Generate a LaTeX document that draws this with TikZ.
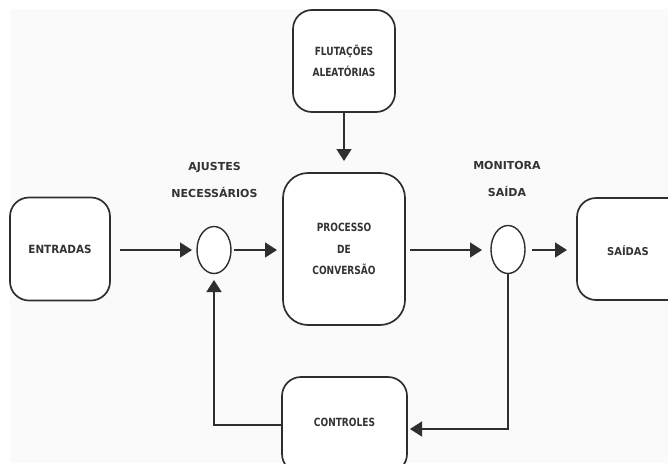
\documentclass[tikz,border=0pt]{standalone}
\usepackage{fontspec}
\setmainfont{DejaVu Sans}
\newfontfamily\narrowf{DejaVu Sans}[FakeStretch=0.8]
\newfontfamily\entf{DejaVu Sans}[FakeStretch=0.92]
\usetikzlibrary{arrows.meta}
\definecolor{bgc}{HTML}{FAFAFA}
\definecolor{linec}{HTML}{2E2E2E}
\definecolor{textc}{HTML}{333333}
\tikzset{
  block/.style={draw=linec, line width=1.7pt, rounded corners=#1, fill=white, inner sep=0pt, outer sep=0pt, align=center, text=textc, font=\narrowf\bfseries\fontsize{11.3}{21.6}\selectfont},
  block/.default=19pt,
  btext/.style={text=textc, inner sep=0pt, font=\narrowf\bfseries\fontsize{11.3}{21.6}\selectfont},
  lbl/.style={align=center, text=textc, font=\bfseries\fontsize{11}{27}\selectfont, inner sep=0pt},
  conn/.style={draw=linec, line width=1.5pt, -{Triangle[length=12pt,width=15pt]}},
  junc/.style={draw=linec, line width=1.4pt, fill=white}
}
\begin{document}
\begin{tikzpicture}[x=1pt,y=-1pt]
\useasboundingbox (0,0) rectangle (668,463);
\clip (0,0) rectangle (668,463);
\fill[bgc] (10,9) rectangle (668,463);
% boxes
\node[block, minimum width=100pt, minimum height=103pt, font=\entf\bfseries\fontsize{11.3}{21.6}\selectfont] (ent) at (60,249) {ENTRADAS};
\node[block, minimum width=102pt, minimum height=102pt] (flu) at (344,61) {FLUTAÇÕES\\ALEATÓRIAS};
\node[block=25pt, minimum width=122pt, minimum height=152pt] (pro) at (344,249) {PROCESSO\\DE\\CONVERSÃO};
\node[block, minimum width=114pt, minimum height=102pt] (sai) at (634,249) {};
\node[btext, font=\entf\bfseries\fontsize{10.8}{12}\selectfont] (saitxt) at (628,251) {SAÍDAS};
\node[block, minimum width=125pt, minimum height=96pt] (ctl) at (344.5,425) {};
\node[btext] (ctltxt) at (344.5,422.7) {CONTROLES};
% junctions
\draw[junc] (214,250) ellipse [x radius=17pt, y radius=23.5pt];
\coordinate (c1w) at (197,250);
\coordinate (c1e) at (231,250);
\coordinate (c1s) at (214,273.5);
\draw[junc] (508,249.5) ellipse [x radius=17pt, y radius=24pt];
\coordinate (c2w) at (491,250);
\coordinate (c2e) at (525,250);
\coordinate (c2s) at (508,273.5);
% labels
\node[lbl] (aj) at (214.5,179.5) {AJUSTES\\NECESSÁRIOS};
\node[lbl] (mo) at (507,179) {MONITORA\\SAÍDA};
% connectors
\draw[conn, shorten <=10pt, shorten >=5pt] (ent.east |- c1w) -- (c1w);
\draw[conn, shorten <=2.5pt, shorten >=6pt] (c1e) -- (pro.west |- c1e);
\draw[conn, shorten >=12pt] (flu.south) -- (pro.north);
\draw[conn, shorten <=5pt, shorten >=9pt] (pro.east |- c2w) -- (c2w);
\draw[conn, shorten <=6.5pt, shorten >=10pt] (c2e) -- (sai.west |- c2e);
\coordinate (r1) at (508,429);
\coordinate (l1) at (214,425);
\draw[conn, shorten >=3pt] (c2s) -- (r1) -- (ctl.east |- r1);
\draw[conn, shorten >=6.5pt] (ctl.west |- l1) -- (l1) -- (c1s);
\end{tikzpicture}
\end{document}
